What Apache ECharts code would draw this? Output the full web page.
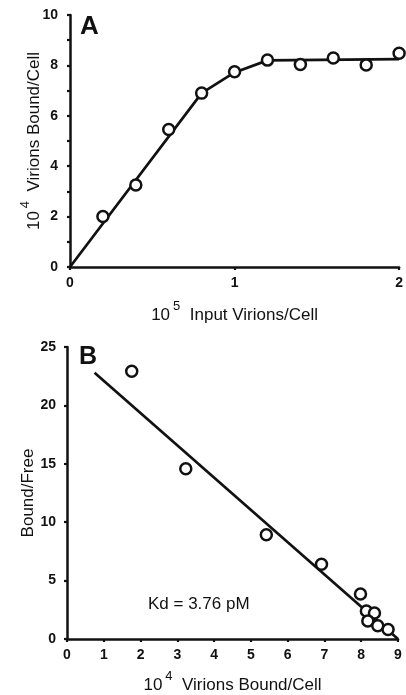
<!DOCTYPE html>
<html>
<head>
<meta charset="utf-8">
<script src="https://cdn.jsdelivr.net/npm/echarts@6/dist/echarts.min.js"></script>
<style>
  html, body { margin: 0; padding: 0; background: #fff; }
  #chart { width: 406px; height: 695px; }
</style>
</head>
<body>
<div id="chart"></div>
<script>
// panel A: saturation binding
const aInput = [0.2, 0.4, 0.6, 0.8, 1.0, 1.2, 1.4, 1.6, 1.8, 2.0]
const aBound = [2.0, 3.25, 5.46, 6.9, 7.75, 8.21, 8.04, 8.29, 8.02, 8.48]
const aFitX = [0, 0.8, 1.0, 1.2, 2.0]
const aFitY = [0, 6.9, 7.72, 8.2, 8.25]
// panel B: Scatchard plot
const bBound = [1.76, 3.23, 5.42, 6.92, 7.98, 8.14, 8.36, 8.18, 8.45, 8.73]
const bRatio = [22.93, 14.57, 8.93, 6.4, 3.86, 2.4, 2.23, 1.55, 1.13, 0.82]
const bFitX = [0.75, 9.0]
const bFitY = [22.8, 0]
const kdText = 'Kd = 3.76 pM'

const FONT = '"Liberation Sans", Arial, Helvetica, sans-serif'
const INK = '#111'
const pairs = (xs, ys) => xs.map((x, i) => [x, ys[i]])

const nameRich = {
  a: { fontSize: 17, fontFamily: FONT, color: INK, lineHeight: 24, verticalAlign: 'bottom' },
  s: { fontSize: 13, fontFamily: FONT, color: INK, lineHeight: 13, verticalAlign: 'top', padding: [0, 0, 0, 3] }
}

function valueAxis (idx, min, max, interval, name, gap, opts) {
  return Object.assign({
    type: 'value',
    gridIndex: idx,
    min: min,
    max: max,
    interval: interval,
    name: name,
    nameLocation: 'middle',
    nameGap: gap,
    nameMoveOverlap: false,
    nameTextStyle: { rich: nameRich },
    splitLine: { show: false },
    axisLine: { onZero: false, lineStyle: { color: INK, width: 2.5 } },
    axisTick: { length: 3, lineStyle: { color: INK, width: 2.2 } },
    axisLabel: { fontSize: 14, fontWeight: 'bold', fontFamily: FONT, color: INK, margin: 9 }
  }, opts || {})
}

const symbolStyle = { color: '#fff', borderColor: INK, borderWidth: 2.5, opacity: 1 }

const option = {
  animation: false,
  backgroundColor: '#fff',
  grid: [
    { left: 70, top: 15, width: 330, height: 252 },
    { left: 67, top: 347, width: 331, height: 295 }
  ],
  xAxis: [
    valueAxis(0, 0, 2, 1, '{a|10}{s|5}{a|  Input Virions/Cell}', 33),
    valueAxis(1, 0, 9, 1, '{a|10}{s|4}{a|  Virions Bound/Cell}', 31)
  ],
  yAxis: [
    valueAxis(0, 0, 10, 2, '{a|10}{s|4}{a|  Virions Bound/Cell}', 27, {
      minorTick: { show: true, splitNumber: 2, length: 3, lineStyle: { color: INK, width: 2.2 } },
      axisLabel: { fontSize: 14, fontWeight: 'bold', fontFamily: FONT, color: INK, margin: 12 }
    }),
    valueAxis(1, 0, 25, 5, '{a|Bound/Free}', 30, {
      axisLabel: { fontSize: 14, fontWeight: 'bold', fontFamily: FONT, color: INK, margin: 11 }
    })
  ],
  graphic: [
    { type: 'text', left: 80, top: 14, style: { text: 'A', font: 'bold 26px ' + FONT, fill: INK } },
    { type: 'text', left: 79, top: 345, style: { text: 'B', font: 'bold 25px ' + FONT, fill: INK } },
    { type: 'text', left: 148, top: 596, style: { text: kdText, font: '17px ' + FONT, fill: INK } }
  ],
  series: [
    {
      type: 'line', xAxisIndex: 0, yAxisIndex: 0,
      data: pairs(aFitX, aFitY), symbol: 'none',
      lineStyle: { color: INK, width: 2.7 }, z: 2
    },
    {
      type: 'scatter', xAxisIndex: 0, yAxisIndex: 0,
      data: pairs(aInput, aBound), symbol: 'circle', symbolSize: 11,
      itemStyle: symbolStyle, clip: false, z: 3
    },
    {
      type: 'line', xAxisIndex: 1, yAxisIndex: 1,
      data: pairs(bFitX, bFitY), symbol: 'none',
      lineStyle: { color: INK, width: 2.7 }, z: 2
    },
    {
      type: 'scatter', xAxisIndex: 1, yAxisIndex: 1,
      data: pairs(bBound, bRatio), symbol: 'circle', symbolSize: 11,
      itemStyle: symbolStyle, clip: false, z: 3
    }
  ]
}

const chart = echarts.init(document.getElementById('chart'))
chart.setOption(option)
</script>
</body>
</html>
